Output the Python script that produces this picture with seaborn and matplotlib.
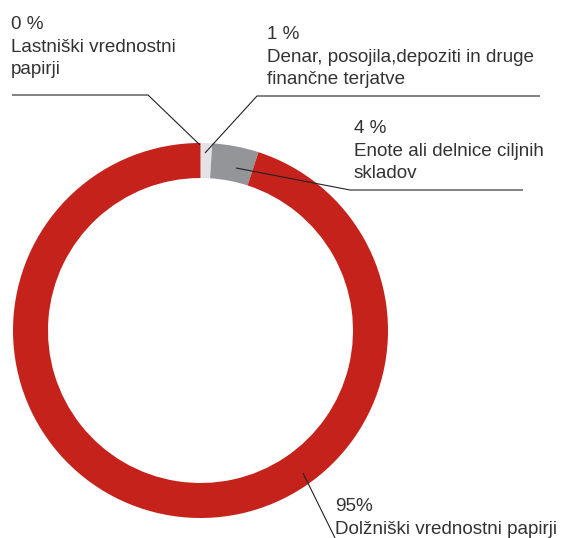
import matplotlib
matplotlib.use("Agg")
import matplotlib.pyplot as plt
import seaborn as sns

# ---- data ----
categories = ["Lastniški vrednostni\npapirji",
              "Denar, posojila,depoziti in druge\nfinančne terjatve",
              "Enote ali delnice ciljnih\nskladov",
              "Dolžniški vrednostni papirji"]
values = [0, 1, 4, 95]
pct_labels = ["0 %", "1 %", "4 %", "95%"]
colors = ["#E3E3E5", "#E3E3E5", "#939598", "#C5221C"]

sns.set_theme(style="white")
plt.rcParams['font.family'] = ['Liberation Sans', 'DejaVu Sans']

W, H = 563, 538
fig = plt.figure(figsize=(W / 100, H / 100), dpi=100)
ax = fig.add_axes([0, 0, 1, 1])

def Y(y):
    return H - y

cx, cy, R, ring = 200.5, 330.5, 187.5, 35
ax.pie(values, colors=colors, startangle=90, counterclock=False,
       radius=R, center=(cx, Y(cy)),
       wedgeprops=dict(width=ring, linewidth=0))
ax.set_xlim(0, W)
ax.set_ylim(0, H)
ax.set_aspect('equal')
ax.axis('off')

txt_col = "#333333"
fs = 13.6
line_col = "#222222"

# label positions (x, top y) and leader polylines
label_pos = [(11, 16), (267, 26), (354, 120), (335, 498)]
leaders = [
    [(12, 95), (148, 95), (200, 145)],
    [(205, 153), (257, 96), (540, 96)],
    [(236, 168), (350, 190), (523, 190)],
    [(303, 473), (336, 540)],
]

for (lx, ly), pct, cat, pts in zip(label_pos, pct_labels, categories, leaders):
    text = pct + "\n" + cat
    ax.text(lx, Y(ly), text, ha='left', va='top', fontsize=fs,
            color=txt_col, linespacing=1.43)
    xs = [p[0] for p in pts]
    ys = [Y(p[1]) for p in pts]
    ax.plot(xs, ys, color=line_col, lw=0.8, solid_capstyle='butt')

fig.savefig("out.png", dpi=100)
